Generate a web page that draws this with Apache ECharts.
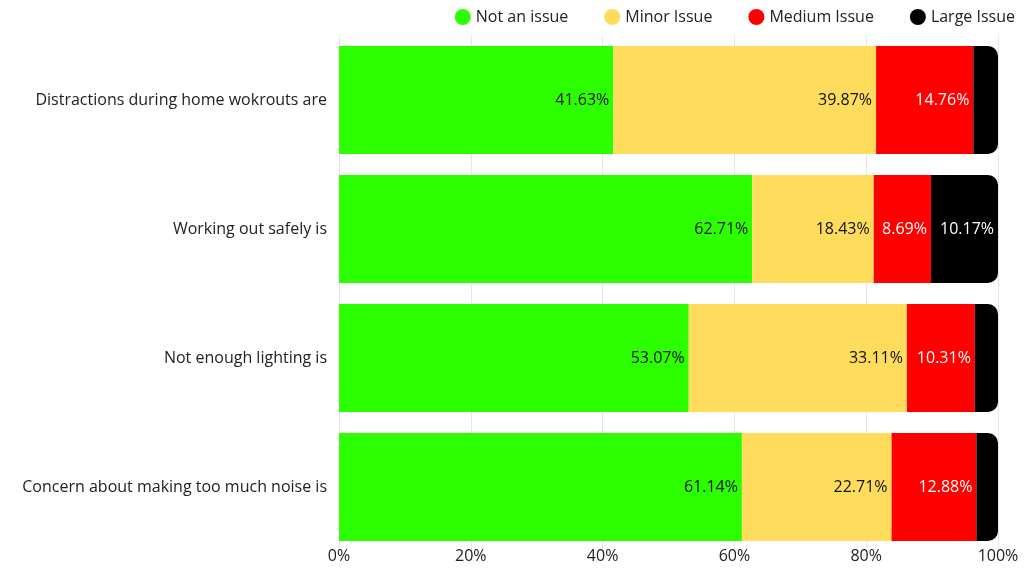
<!DOCTYPE html>
<html>
<head>
<meta charset="utf-8">
<script src="https://cdn.jsdelivr.net/npm/echarts@6/dist/echarts.min.js"></script>
<style>html,body{margin:0;padding:0;background:#fff;}#c{width:1024px;height:576px;}</style>
</head>
<body>
<div id="c"></div>
<script>
const categories = ["Distractions during home wokrouts are", "Working out safely is", "Not enough lighting is", "Concern about making too much noise is"];
const seriesNames = ["Not an issue", "Minor Issue", "Medium Issue", "Large Issue"];
const notAnIssue = [41.63, 62.71, 53.07, 61.14];
const minorIssue = [39.87, 18.43, 33.11, 22.71];
const mediumIssue = [14.76, 8.69, 10.31, 12.88];
const largeIssue = [3.74, 10.17, 3.51, 3.27];
const xTicks = [0, 20, 40, 60, 80, 100];

const colors = ["#2bff00", "#ffdc5c", "#ff0000", "#000000"];
const labelColors = ["#111", "#111", "#fff", "#fff"];
const allData = [notAnIssue, minorIssue, mediumIssue, largeIssue];
const font = "Open Sans";

const chart = echarts.init(document.getElementById('c'));
chart.setOption({
  animation: false,
  textStyle: { fontFamily: font },
  legend: {
    right: 4, top: 4,
    icon: 'circle', itemWidth: 16, itemHeight: 16, itemGap: 36,
    textStyle: { fontSize: 16, color: '#222', fontFamily: font },
    data: seriesNames
  },
  grid: { left: 339, right: 26, top: 35.5, bottom: 24.5, containLabel: false },
  xAxis: {
    type: 'value', min: 0, max: 100, interval: 20,
    axisLabel: { formatter: v => v + '%', fontSize: 16, color: '#222', margin: -3, fontFamily: font },
    splitLine: { show: true, lineStyle: { color: '#e6e6e6', width: 1 } },
    axisLine: { show: false }, axisTick: { show: false }
  },
  yAxis: {
    type: 'category', inverse: true, data: categories,
    axisLabel: { fontSize: 16, color: '#222', margin: 12, fontFamily: font },
    axisLine: { show: false }, axisTick: { show: false }
  },
  series: allData.map((d, i) => ({
    name: seriesNames[i],
    type: 'bar', stack: 'total', barCategoryGap: '16.3%',
    itemStyle: { color: colors[i] },
    label: {
      show: true, position: 'insideRight', distance: 4,
      color: labelColors[i], fontSize: 16, fontFamily: font,
      formatter: p => p.value > 5 ? p.value.toFixed(2) + '%' : ''
    },
    data: d.map(v => i === 3 ? { value: v, itemStyle: { borderRadius: [0, 10, 10, 0] } } : v)
  }))
});
</script>
</body>
</html>
